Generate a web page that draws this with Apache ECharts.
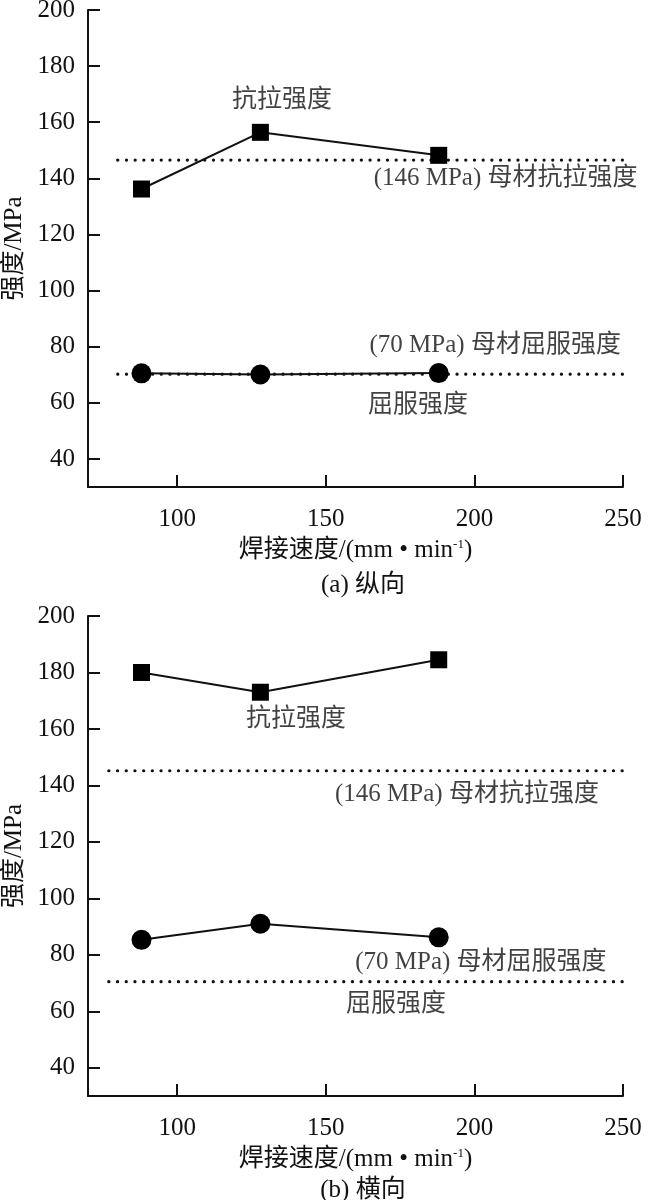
<!DOCTYPE html>
<html>
<head>
<meta charset="utf-8">
<script src="https://cdn.jsdelivr.net/npm/echarts@6/dist/echarts.min.js"></script>
<style>
  html, body { margin: 0; padding: 0; background: #fff; }
  #chart { width: 669px; height: 1200px; }
</style>
</head>
<body>
<div id="chart"></div>
<script>
"use strict";

// ---- data ----
const speeds = [88, 128, 188];
const tensileA = [136.2, 156.4, 148.2];
const yieldA = [70.5, 70.1, 70.6];
const tensileB = [180, 173, 184.5];
const yieldB = [85.3, 91, 86.2];

// base-metal reference levels (dotted lines), start/end speed of each dotted line
const refSpanA = [80, 255];
const refSpanB = [77, 261];
const refTensileA = 146.5;
const refYieldA = 70.2;
const refTensileB = 145.2;
const refYieldB = 70.5;

const yTicks = [40, 60, 80, 100, 120, 140, 160, 180, 200];
const xTicks = [100, 150, 200, 250];

// text notes: [speed, strength, text]
const notesA = [
    [135.3, 167.6, "抗拉强度"],
    [210.5, 139.8, "(146 MPa) 母材抗拉强度"],
    [207.0, 80.6, "(70 MPa) 母材屈服强度"],
    [181.0, 59.2, "屈服强度"]
];
const notesB = [
    [140.0, 163.4, "抗拉强度"],
    [197.5, 136.8, "(146 MPa) 母材抗拉强度"],
    [202.2, 77.2, "(70 MPa) 母材屈服强度"],
    [173.6, 62.3, "屈服强度"]
];

const INK = "#111";
const FONT = "'Liberation Serif', 'Noto Sans CJK SC', serif";
const FS = 25;

function pairs(xs, ys){
    return xs.map((x, i) => [x, ys[i]]);
}

function xAxisFor(gridIndex){
    return {
        gridIndex,
        type: "value",
        min: 70,
        max: 250,
        name: "焊接速度/(mm • min{sup|-1})",
        nameLocation: "middle",
        nameGap: 51,
        nameTextStyle: {
            color: INK, fontFamily: FONT, fontSize: FS,
            rich: { sup: { fontSize: 13, fontFamily: FONT, color: INK, verticalAlign: "top", padding: [0, 0, 12, 0] } }
        },
        axisLine: { onZero: false, lineStyle: { color: INK, width: 2 } },
        axisTick: { inside: true, length: 12, lineStyle: { color: INK, width: 2 }, customValues: xTicks },
        axisLabel: { color: INK, fontFamily: FONT, fontSize: FS, margin: 20, customValues: xTicks },
        splitLine: { show: false }
    };
}

function yAxisFor(gridIndex){
    return {
        gridIndex,
        type: "value",
        min: 30,
        max: 200,
        name: "强度/MPa",
        nameLocation: "middle",
        nameRotate: 90,
        nameGap: 55,
        nameTextStyle: { color: INK, fontFamily: FONT, fontSize: FS },
        axisLine: { onZero: false, lineStyle: { color: INK, width: 2 } },
        axisTick: { inside: true, length: 12, lineStyle: { color: INK, width: 2 }, customValues: yTicks },
        axisLabel: { color: INK, fontFamily: FONT, fontSize: FS, margin: 13, customValues: yTicks },
        splitLine: { show: false }
    };
}

function dataSeries(idx, ys, symbol, size){
    return {
        type: "line",
        xAxisIndex: idx, yAxisIndex: idx,
        data: pairs(speeds, ys),
        symbol, symbolSize: size,
        showAllSymbol: true,
        lineStyle: { color: INK, width: 2 },
        itemStyle: { color: "#000", borderWidth: 0 },
        z: 3
    };
}

function refSeries(idx, span, level){
    return {
        type: "line",
        xAxisIndex: idx, yAxisIndex: idx,
        data: span.map(x => [x, level]),
        symbol: "none",
        clip: false,
        lineStyle: { color: INK, width: 3.2, type: [0.1, 8.6], cap: "round" },
        z: 2
    };
}

function noteSeries(idx, notes){
    return {
        type: "scatter",
        xAxisIndex: idx, yAxisIndex: idx,
        data: notes.map(n => ({ value: [n[0], n[1]], name: n[2] })),
        symbolSize: 1,
        itemStyle: { color: "rgba(0,0,0,0)" },
        clip: false,
        silent: true,
        z: 5,
        label: {
            show: true,
            position: "inside",
            formatter: "{b}",
            color: INK,
            fontFamily: FONT,
            fontSize: FS,
            backgroundColor: "#fff",
            padding: [3, 2, 1, 2]
        }
    };
}

const chart = echarts.init(document.getElementById("chart"), null, { renderer: "canvas" });

chart.setOption({
    animation: false,
    backgroundColor: "#fff",
    title: [
        { text: "(a) 纵向", left: 358, top: 568, textAlign: "center",
          textStyle: { color: INK, fontFamily: FONT, fontSize: FS, fontWeight: "normal" } },
        { text: "(b) 横向", left: 358, top: 1173, textAlign: "center",
          textStyle: { color: INK, fontFamily: FONT, fontSize: FS, fontWeight: "normal" } }
    ],
    grid: [
        { left: 88, right: 46, top: 10, height: 477, containLabel: false, outerBoundsMode: "none" },
        { left: 88, right: 46, top: 616, height: 480, containLabel: false, outerBoundsMode: "none" }
    ],
    xAxis: [xAxisFor(0), xAxisFor(1)],
    yAxis: [yAxisFor(0), yAxisFor(1)],
    series: [
        refSeries(0, refSpanA, refTensileA),
        refSeries(0, refSpanA, refYieldA),
        dataSeries(0, tensileA, "rect", 17),
        dataSeries(0, yieldA, "circle", 20),
        noteSeries(0, notesA),
        refSeries(1, refSpanB, refTensileB),
        refSeries(1, refSpanB, refYieldB),
        dataSeries(1, tensileB, "rect", 17),
        dataSeries(1, yieldB, "circle", 20),
        noteSeries(1, notesB)
    ]
});

window.addEventListener("resize", () => chart.resize());
</script>
</body>
</html>
